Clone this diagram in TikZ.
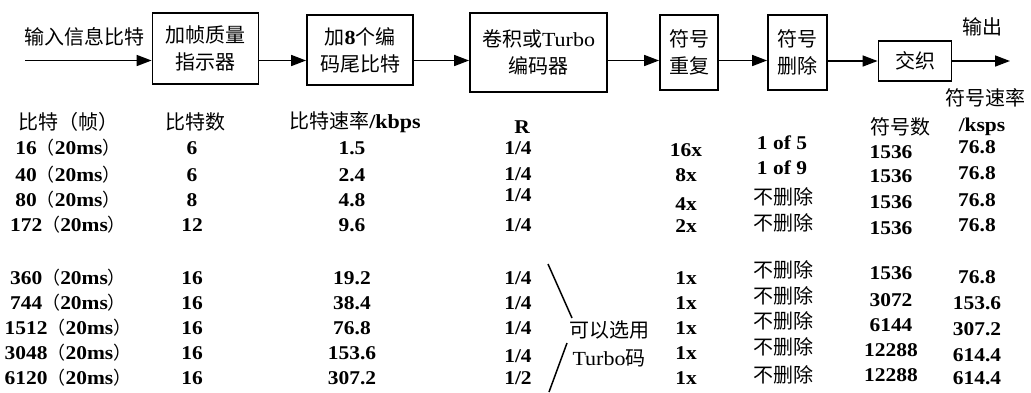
\documentclass[tikz,border=0pt]{standalone}
\usepackage{fontspec}
\setmainfont{Liberation Serif}[FakeStretch=1.1]
\newfontfamily\zhfont{Noto Sans CJK SC}
\newcommand{\zh}[1]{{\zhfont\mdseries #1}}
\usetikzlibrary{arrows.meta}
\tikzset{
  box/.style={draw, line width=1.8pt, inner sep=0pt, align=center,
    font=\zhfont\fontsize{20}{27}\selectfont},
  flow/.style={line width=1.6pt, -{Triangle[length=15pt,width=11pt]}},
  zhl/.style={inner sep=0pt, font=\zhfont\fontsize{20}{24}\selectfont},
  num/.style={inner sep=0pt, font=\bfseries\fontsize{19.5}{21}\selectfont},
  bracket/.style={line width=1.5pt}
}
\begin{document}
\begin{tikzpicture}[x=1pt,y=-1pt]
\useasboundingbox (0,0) rectangle (1031,392);

% ---- block chain ----
\node[zhl] (inlab) at (84,37) {输入信息比特};
\node[box, minimum width=106pt, minimum height=71pt] (b1) at (205.5,48.5) {加帧质量\\指示器};
\node[box, minimum width=106pt, minimum height=70pt] (b2) at (360,50) {加{\rmfamily\bfseries 8}个编\\码尾比特};
\node[box, minimum width=137pt, minimum height=79pt] (b3) at (538.5,52.5) {卷积或{\rmfamily Turbo}\\编码器};
\node[box, minimum width=58pt, minimum height=75pt] (b4) at (689,52.5) {符号\\重复};
\node[box, minimum width=59pt, minimum height=75pt] (b5) at (797.5,52.5) {符号\\删除};
\node[box, minimum width=73pt, minimum height=40pt] (b6) at (915,61) {交织};
\node[zhl] (outlab) at (982,27) {输出};

\coordinate (in) at (25,60.5);
\coordinate (out) at (1010,61);
\draw[flow] (in) -- (b1.west |- in);
\draw[flow] (b1.east |- in) -- (b2.west |- in);
\draw[flow] (b2.east |- in) -- (b3.west |- in);
\draw[flow] (b3.east |- in) -- (b4.west |- in);
\draw[flow] (b4.east |- in) -- (b5.west |- in);
\draw[flow] (b5.east |- out) -- (b6.west |- out);
\draw[flow] (b6.east |- out) -- (out);

% ---- headers ----
\node[zhl] (h1) at (68,122) {比特（帧）};
\node[zhl] (h2) at (195,122) {比特数};
\node[zhl] (h3) at (355,122) {比特速率{\rmfamily\bfseries /kbps}};
\node[num] (h4) at (522,127) {R};
\node[zhl] (h7) at (900,127) {符号数};
\node[zhl] (h8a) at (985,98) {符号速率};
\node[num] (h8b) at (982,127) {/ksps};

% ---- column 1 ----
\foreach \y/\t [count=\i] in {148/16,175/40,200/80,225/172,278/360,303/744,328/1512,353/3048,378/6120}
  \node[num] (ca\i) at (68,\y) {\t{\zhfont\mdseries\fontsize{18}{20}\selectfont （}20ms{\zhfont\mdseries\fontsize{18}{20}\selectfont ）}};
% ---- column 2 ----
\foreach \y/\t [count=\i] in {148/6,175/6,200/8,225/12,278/16,303/16,328/16,353/16,378/16}
  \node[num] (cb\i) at (192,\y) {\t};
% ---- column 3 ----
\foreach \y/\t [count=\i] in {148/1.5,175/2.4,200/4.8,225/9.6,278/19.2,303/38.4,328/76.8,353/153.6,378/307.2}
  \node[num] (cc\i) at (352,\y) {\t};
% ---- column R ----
\foreach \y [count=\i] in {148,174,195,225,278,303,328,356}
  \node[num] (cd\i) at (518,\y) {1\slash 4};
\node[num] (cd9) at (518,378) {1\slash 2};
% ---- repetition ----
\foreach \y/\t [count=\i] in {150/16x,175/8x,204/4x,226/2x,278/1x,303/1x,328/1x,353/1x,378/1x}
  \node[num] (ce\i) at (686,\y) {\t};
% ---- puncturing ----
\node[num] (cf1) at (782,143) {1 of 5};
\node[num] (cf2) at (782,168) {1 of 9};
\foreach \y [count=\i from 3] in {197,223,270,296,321,347,375}
  \node[zhl] (cf\i) at (783,\y) {不删除};
% ---- symbols ----
\foreach \y/\t [count=\i] in {152/1536,176/1536,202/1536,228/1536,273/1536,300/3072,325/6144,350/12288,375/12288}
  \node[num] (cg\i) at (891,\y) {\t};
% ---- symbol rate ----
\foreach \y/\t [count=\i] in {147/76.8,173/76.8,200/76.8,225/76.8,277/76.8,303/153.6,329/307.2,355/614.4,378/614.4}
  \node[num] (ch\i) at (977,\y) {\t};

% ---- Turbo note ----
\node[zhl] (tn1) at (609,330) {可以选用};
\node[zhl] (tn2) at (609,358) {{\rmfamily Turbo}码};
\coordinate (u1) at (548,264);
\coordinate (u2) at (572,318);
\coordinate (l1) at (567,343);
\coordinate (l2) at (549,392);
\draw[bracket] (u1) -- (u2);
\draw[bracket] (l1) -- (l2);
\end{tikzpicture}
\end{document}
